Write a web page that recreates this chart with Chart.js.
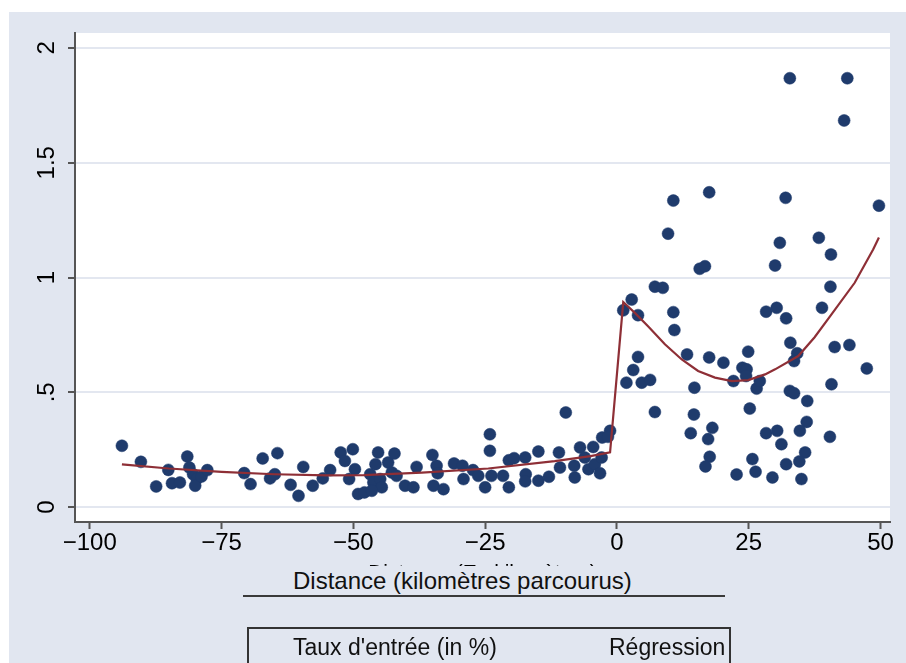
<!DOCTYPE html>
<html>
<head>
<meta charset="utf-8">
<script src="https://cdn.jsdelivr.net/npm/chart.js@4.4.1/dist/chart.umd.min.js"></script>
<style>
  body { margin: 0; background: #fff; font-family: 'Liberation Sans', Arial, sans-serif; }
  #bg { position: absolute; left: 9px; top: 12px; width: 897px; height: 651px; background: #E1E6F0; }
  #xtitle { position: absolute; left: 243px; top: 566px; width: 482px; height: 29px;
            background: #E1E6F0; border-bottom: 2px solid #3a3a3a; font-size: 24px; line-height: 29px; color: #111; }
  #xtitle span { position: absolute; left: 50px; white-space: nowrap; }
  #legend { position: absolute; left: 247px; top: 627px; width: 480px; height: 60px;
            border: 2px solid #333; border-bottom: none; overflow: hidden; }
  #legend span { position: absolute; top: 3px; font-size: 23px; line-height: 30px; color: #111; white-space: nowrap; }
</style>
</head>
<body>
<div id="bg"><canvas id="chart" width="897" height="651"></canvas></div>
<div id="xtitle"><span id="xtitleText"></span></div>
<div id="legend"><span id="lab1" style="left:44px"></span><span id="lab2" style="left:360px"></span></div>
<script>
// ---- data ----
const xTickValues = [-100, -75, -50, -25, 0, 25, 50];
const xTickLabels = ['\u2212100', '\u221275', '\u221250', '\u221225', '0', '25', '50'];
const yTickValues = [0, 0.5, 1, 1.5, 2];
const yTickLabels = ['0', '.5', '1', '1.5', '2'];

const seriesName = "Taux d'entrée (in %)";
const lineName = 'Régression';
const oldAxisTitle = 'Distance (En kilomètres)';
const axisTitle = 'Distance (kilomètres parcourus)';

// distance / taux d'entree
const distance = [
  -93.9, -90.3, -87.4, -85.1, -84.4, -82.9, -81.5, -81.1, -80.4, -79.7, -80.0, -78.8, -77.7,
  -70.7, -69.5, -67.2, -64.4, -65.8, -64.9, -61.9, -60.4, -59.5, -57.7, -55.8, -54.4, -52.4,
  -51.6, -50.1, -50.8, -49.7, -49.1, -47.9, -46.8, -46.2, -45.8, -45.3, -44.9, -44.6, -46.5,
  -43.4, -42.2, -42.7, -41.8, -40.2, -38.6, -38.0, -35.0, -34.2, -34.0, -34.8, -32.9, -30.9,
  -29.3, -29.1, -27.3, -26.3, -25.0, -24.1, -24.1, -23.8, -21.6, -20.5, -20.5, -19.5, -17.4,
  -17.3, -17.4, -14.9, -14.9, -12.9, -10.8, -11.0, -9.7, -8.0, -8.1, -7.0, -6.1, -5.4, -4.5,
  -4.2, -3.2, -2.9, -2.8, -1.3, -1.7,
  1.2, 2.8, 4.0, 7.2, 8.7, 9.7, 10.7, 10.7, 10.9, 15.7, 16.7, 17.5, 4.0, 3.1, 1.8, 4.7, 6.3,
  13.3, 17.5, 20.2, 24.9, 23.8, 24.6, 24.5, 22.1, 26.5, 14.7, 7.2, 14.6, 25.2, 18.1, 14.0,
  17.3, 17.6, 16.8, 25.7, 26.3, 22.7, 32.8, 43.7, 43.1, 32.0, 49.7, 30.9, 38.3, 40.6, 30.0,
  40.5, 38.9, 28.3, 30.3, 32.1, 32.9, 34.2, 33.6, 41.3, 44.1, 47.4, 27.1, 40.7, 32.8, 33.6,
  36.1, 36.0, 34.7, 28.3, 30.4, 31.2, 40.4, 35.7, 34.6, 32.1, 29.5, 35.0
];
const taux = [
  0.267, 0.197, 0.090, 0.162, 0.104, 0.107, 0.220, 0.172, 0.143, 0.122, 0.093, 0.133, 0.161,
  0.148, 0.100, 0.212, 0.235, 0.125, 0.143, 0.097, 0.049, 0.175, 0.093, 0.125, 0.161, 0.238,
  0.201, 0.252, 0.122, 0.165, 0.057, 0.064, 0.143, 0.107, 0.187, 0.238, 0.122, 0.086, 0.071,
  0.194, 0.233, 0.151, 0.136, 0.093, 0.086, 0.175, 0.227, 0.180, 0.147, 0.093, 0.078, 0.190,
  0.180, 0.122, 0.161, 0.136, 0.086, 0.317, 0.245, 0.136, 0.136, 0.086, 0.204, 0.213, 0.216,
  0.143, 0.112, 0.242, 0.115, 0.132, 0.172, 0.238, 0.412, 0.129, 0.180, 0.260, 0.216, 0.165, 0.262,
  0.187, 0.147, 0.216, 0.303, 0.332, 0.306,
  0.857, 0.904, 0.836, 0.960, 0.955, 1.191, 1.335, 0.849, 0.771, 1.038, 1.049, 1.371, 0.654, 0.597, 0.542, 0.542, 0.554,
  0.665, 0.652, 0.629, 0.677, 0.607, 0.600, 0.571, 0.549, 0.516, 0.520, 0.414, 0.403, 0.429, 0.345, 0.322,
  0.296, 0.219, 0.177, 0.209, 0.154, 0.142, 1.868, 1.868, 1.684, 1.347, 1.313, 1.151, 1.173, 1.100, 1.052,
  0.960, 0.868, 0.851, 0.868, 0.822, 0.716, 0.670, 0.636, 0.697, 0.706, 0.604, 0.549, 0.535, 0.506, 0.496,
  0.462, 0.371, 0.332, 0.322, 0.332, 0.274, 0.306, 0.238, 0.199, 0.187, 0.129, 0.122
];

// fitted line, both sides of 0
const regX = [-93.9, -85, -75, -65, -55, -48, -37, -24.4, -11.8, -5, -1.3,
              1.2, 3.4, 5.9, 9.1, 12.3, 15.4, 18.6, 21.8, 24.9, 28.1, 30, 34.4, 37.5, 40.7, 45.1, 48.6, 49.7];
const regY = [0.186, 0.168, 0.153, 0.143, 0.138, 0.139, 0.150, 0.168, 0.200, 0.222, 0.238,
              0.893, 0.846, 0.788, 0.709, 0.643, 0.593, 0.564, 0.549, 0.553, 0.578, 0.600, 0.658, 0.740, 0.839, 0.977, 1.122, 1.174];

// ---- texts ----
document.getElementById('xtitleText').textContent = axisTitle;
document.getElementById('lab1').textContent = seriesName;
document.getElementById('lab2').textContent = lineName;

Chart.defaults.font.family = "'Liberation Sans', Arial, sans-serif";
Chart.defaults.color = '#000';

const points = distance.map((d, i) => ({x: d, y: taux[i]}));
const regLine = regX.map((d, i) => ({x: d, y: regY[i]}));

// white plot region
const plotBg = {
  id: 'plotBg',
  beforeDraw(chart) {
    const a = chart.chartArea;
    chart.ctx.save();
    chart.ctx.fillStyle = '#fff';
    chart.ctx.fillRect(a.left, a.top, a.right - a.left, a.bottom - a.top);
    chart.ctx.restore();
  }
};

new Chart(document.getElementById('chart'), {
  type: 'scatter',
  data: {
    datasets: [{
      type: 'line',
      label: lineName,
      data: regLine,
      borderColor: '#8E2F36',
      borderWidth: 2.2,
      pointRadius: 0,
      fill: false,
      tension: 0,
      order: 0
    }, {
      label: seriesName,
      data: points,
      backgroundColor: '#1F3B6C',
      borderColor: '#1F3B6C',
      borderWidth: 0.5,
      pointRadius: 6,
      order: 1
    }]
  },
  options: {
    responsive: false,
    animation: false,
    devicePixelRatio: 1,
    layout: { padding: { top: 21, right: 16, left: 0, bottom: 0 } },
    plugins: { legend: { display: false }, tooltip: { enabled: false } },
    scales: {
      x: {
        type: 'linear',
        min: -102.8,
        max: 51.8,
        afterBuildTicks: s => { s.ticks = xTickValues.map(v => ({value: v})); },
        afterFit: s => { s.height = 141; },
        ticks: {
          autoSkip: false,
          maxRotation: 0,
          padding: 0,
          font: { size: 24 },
          callback: v => xTickLabels[xTickValues.indexOf(v)]
        },
        grid: { drawOnChartArea: false, tickLength: 7, tickColor: '#555', tickWidth: 2 },
        border: { color: '#555', width: 2 },
        title: {
          display: true,
          text: oldAxisTitle,
          font: { size: 21 },
          padding: { top: 0, bottom: 77 }
        }
      },
      y: {
        min: -0.065,
        max: 2.065,
        afterBuildTicks: s => { s.ticks = yTickValues.map(v => ({value: v})); },
        afterFit: s => { s.width = 66; },
        ticks: {
          minRotation: 90,
          maxRotation: 90,
          crossAlign: 'center',
          padding: 4,
          font: { size: 24 },
          callback: v => yTickLabels[yTickValues.indexOf(v)]
        },
        grid: { color: '#E3E7F0', lineWidth: 2, tickColor: '#555', tickLength: 7, tickWidth: 2 },
        border: { color: '#555', width: 2 }
      }
    }
  },
  plugins: [plotBg]
});
</script>
</body>
</html>
